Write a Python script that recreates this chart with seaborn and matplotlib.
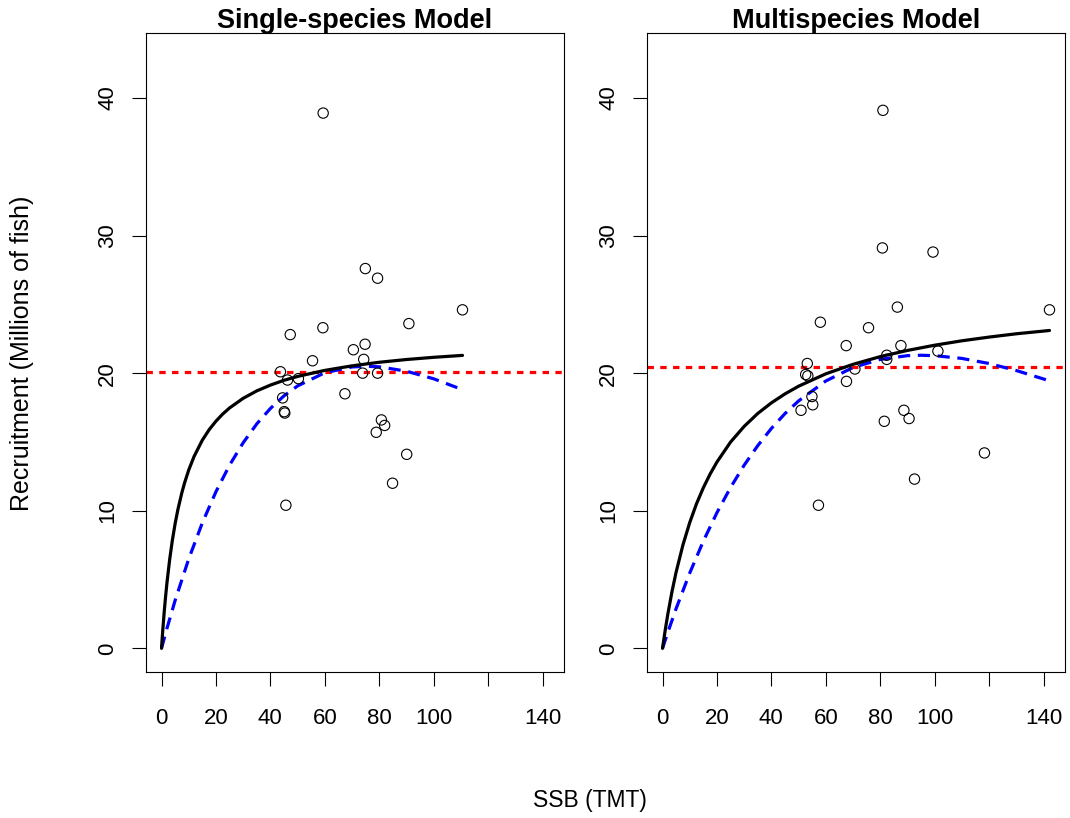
import matplotlib
matplotlib.use("Agg")
import matplotlib.pyplot as plt
import seaborn as sns
import pandas as pd

# ---------------- data ----------------
titles = ["Single-species Model", "Multispecies Model"]

ss_ssb = [59.4, 79.4, 74.9, 110.6, 90.9, 47.3, 59.3, 70.5, 74.8, 55.5, 74.3, 43.7, 73.9,
          79.4, 46.3, 50.3, 44.5, 45.1, 45.3, 67.4, 80.8, 82.0, 78.9, 90.1, 84.9, 45.7]
ss_rec = [38.9, 26.9, 27.6, 24.6, 23.6, 22.8, 23.3, 21.7, 22.1, 20.9, 21.0, 20.1, 20.0,
          20.0, 19.5, 19.6, 18.2, 17.2, 17.1, 18.5, 16.6, 16.2, 15.7, 14.1, 12.0, 10.4]

ms_ssb = [81.0, 80.8, 99.4, 86.3, 142.2, 58.0, 75.7, 67.5, 87.6, 101.2, 82.4, 82.4, 53.2,
          70.7, 52.6, 53.4, 67.6, 54.9, 55.2, 50.9, 88.7, 90.6, 81.5, 118.3, 92.6, 57.3]
ms_rec = [39.1, 29.1, 28.8, 24.8, 24.6, 23.7, 23.3, 22.0, 22.0, 21.6, 21.3, 21.0, 20.7,
          20.3, 19.9, 19.8, 19.4, 18.3, 17.7, 17.3, 17.3, 16.7, 16.5, 14.2, 12.3, 10.4]

# fitted curves
ss_bh_s = [0, 0.25, 0.5, 1, 1.5, 2, 3, 4, 5, 6, 7.5, 8.5, 10, 12, 15, 17.5, 20, 22.5, 25,
           30, 35, 40, 45, 50, 60, 70, 80, 90, 100, 110.6]
ss_bh_r = [0, 0.73, 1.41, 2.66, 3.77, 4.76, 6.46, 7.87, 9.06, 10.07, 11.33, 12.04, 12.96,
           13.96, 15.13, 15.89, 16.51, 17.03, 17.47, 18.17, 18.71, 19.13, 19.48, 19.76,
           20.20, 20.53, 20.79, 20.99, 21.15, 21.29]
ss_rk_s = [0, 2, 5, 10, 15, 20, 25, 30, 35, 40, 45, 50, 60, 70, 75, 80, 90, 100, 110.6]
ss_rk_r = [0, 1.45, 3.48, 6.50, 9.12, 11.38, 13.31, 14.94, 16.31, 17.43, 18.35, 19.07,
           20.03, 20.45, 20.50, 20.46, 20.14, 19.59, 18.80]

ms_bh_s = [0, 1, 2, 3.5, 5, 7.5, 10, 12.5, 15, 17.5, 20, 25, 30, 35, 40, 45, 50, 60, 70,
           80, 90, 100, 110, 120, 130, 142.2]
ms_bh_r = [0, 1.33, 2.54, 4.14, 5.54, 7.51, 9.14, 10.51, 11.67, 12.67, 13.54, 14.99,
           16.13, 17.07, 17.84, 18.49, 19.05, 19.95, 20.64, 21.20, 21.65, 22.03, 22.35,
           22.62, 22.86, 23.10]
ms_rk_s = [0, 2, 5, 10, 15, 20, 25, 30, 35, 40, 45, 50, 60, 70, 80, 90, 95, 100, 110,
           120, 130, 142.2]
ms_rk_r = [0, 1.19, 2.89, 5.47, 7.79, 9.86, 11.69, 13.31, 14.73, 15.98, 17.06, 17.98,
           19.43, 20.41, 21.00, 21.27, 21.30, 21.27, 21.07, 20.70, 20.19, 19.44]

mean_rec = [20.05, 20.48]

x_ticks = [0, 20, 40, 60, 80, 100, 120, 140]
x_tick_labels = ["0", "20", "40", "60", "80", "100", "", "140"]
y_ticks = [0, 10, 20, 30, 40]

# ---------------- style ----------------
sns.set_theme(style="white")
plt.rcParams["font.family"] = ["Liberation Sans", "DejaVu Sans"]
plt.rcParams["text.color"] = "black"

W, H = 1070, 818
fig = plt.figure(figsize=(W / 100, H / 100), dpi=100)

panels = [
    (146, ss_ssb, ss_rec, ss_bh_s, ss_bh_r, ss_rk_s, ss_rk_r),
    (647, ms_ssb, ms_rec, ms_bh_s, ms_bh_r, ms_rk_s, ms_rk_r),
]
top_px, bot_px, width_px = 33, 672, 418

for i, (left_px, sx, sy, bs, br, rs, rr) in enumerate(panels):
    ax = fig.add_axes([left_px / W, 1 - bot_px / H, width_px / W, (bot_px - top_px) / H])
    pts = pd.DataFrame({"SSB": sx, "R": sy})
    bh = pd.DataFrame({"SSB": bs, "R": br})
    rk = pd.DataFrame({"SSB": rs, "R": rr})

    ax.axhline(mean_rec[i], color="red", lw=2.3, ls=(0, (2.0, 2.0)), zorder=2)
    sns.lineplot(data=rk, x="SSB", y="R", ax=ax, color="blue", lw=2.3,
                 linestyle=(0, (3.8, 2.4)), sort=False, estimator=None, zorder=3)
    sns.lineplot(data=bh, x="SSB", y="R", ax=ax, color="black", lw=2.3,
                 sort=False, estimator=None, zorder=4)
    sns.scatterplot(data=pts, x="SSB", y="R", ax=ax, s=55, facecolor="none",
                    edgecolor="black", linewidth=0.8, zorder=5)

    ax.set_xlim(-5.7, 147.9)
    ax.set_ylim(-1.72, 44.72)
    ax.set_xticks(x_ticks)
    ax.set_xticklabels(x_tick_labels)
    ax.set_yticks(y_ticks)
    ax.set_yticklabels([str(v) for v in y_ticks], rotation=90, va="center")
    ax.tick_params(axis="both", direction="out", length=10, width=0.8, color="black",
                   labelsize=16, labelcolor="black", bottom=True, left=True)
    ax.tick_params(axis="x", pad=16)
    ax.tick_params(axis="y", pad=10)
    ax.set_xlabel("")
    ax.set_ylabel("")
    for sp in ax.spines.values():
        sp.set_visible(True)
        sp.set_color("black")
        sp.set_linewidth(0.8)
    ax.grid(False)
    ax.set_title(titles[i], fontsize=19.5, fontweight="bold", pad=3.5, color="black")

fig.text(590 / W, 1 - 801 / H, "SSB (TMT)", ha="center", va="center", fontsize=16.5,
         color="black")
fig.text(22 / W, 1 - 353 / H, "Recruitment (Millions of fish)", ha="center",
         va="center", rotation=90, fontsize=18, color="black")

fig.savefig("out.png", dpi=100, facecolor="white")
